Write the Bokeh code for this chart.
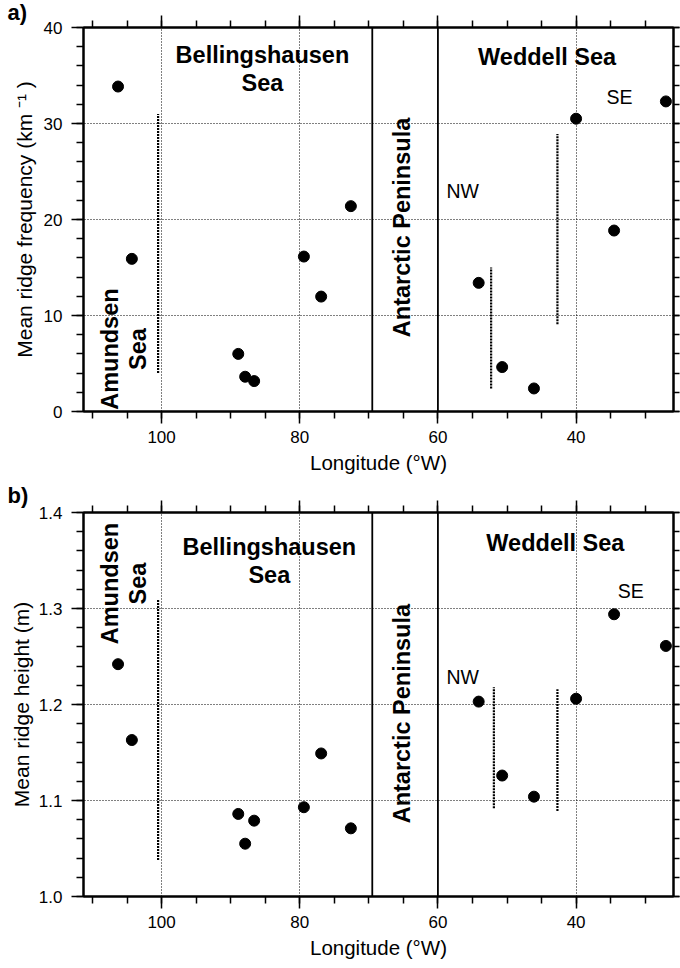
from math import pi
from bokeh.plotting import figure
from bokeh.models import (Range1d, FixedTicker, LinearAxis, Span, Label, Title,
                          CustomJSTickFormatter, PrintfTickFormatter)
from bokeh.layouts import column
from bokeh.embed import file_html
from bokeh.resources import INLINE

# ---------------- data ----------------
lon = [106.3, 104.3, 88.9, 87.9, 86.6, 79.4, 76.9, 72.6, 54.1, 50.7, 46.1, 40.0, 34.5, 27.0]
ridge_freq = [33.85, 15.9, 6.0, 3.62, 3.17, 16.14, 11.97, 21.39, 13.4, 4.63, 2.4, 30.5, 18.85, 32.3]
ridge_height = [1.242, 1.163, 1.086, 1.055, 1.079, 1.093, 1.149, 1.071, 1.203, 1.126, 1.104, 1.206, 1.294, 1.261]

# vertical dashed separators (lon, bottom, top)
sep_lon_a = [100.5, 52.3, 42.7]
sep_bot_a = [4.0, 2.4, 9.1]
sep_top_a = [31.0, 15.0, 28.9]
sep_lon_b = [100.5, 51.9, 42.7]
sep_bot_b = [1.038, 1.092, 1.089]
sep_top_b = [1.310, 1.218, 1.216]

# solid region boundaries (Antarctic Peninsula)
boundaries = [69.5, 60.0]

x_major = [100, 80, 60, 40]
x_minor = list(range(110, 25, -5))
ya_major = [0, 10, 20, 30, 40]
ya_minor = list(range(0, 41, 2))
ya_grid = [10, 20, 30]
yb_major = [1.0, 1.1, 1.2, 1.3, 1.4]
yb_minor = [round(1.0 + 0.02 * i, 2) for i in range(21)]
yb_grid = [1.1, 1.2, 1.3]

FONT = "Liberation Sans"


def style_axis(ax, tick_out=12, minor_out=7, standoff=9, title_size="20.5px"):
    ax.axis_line_width = 2
    ax.axis_line_color = "black"
    ax.major_tick_in = 0
    ax.major_tick_out = tick_out
    ax.minor_tick_in = 0
    ax.minor_tick_out = minor_out
    ax.major_tick_line_width = 1.5
    ax.minor_tick_line_width = 1.5
    ax.major_tick_line_color = "black"
    ax.minor_tick_line_color = "black"
    ax.major_label_text_font = FONT
    ax.major_label_text_font_size = "17px"
    ax.major_label_text_color = "black"
    ax.major_label_standoff = standoff
    ax.axis_label_text_font = FONT
    ax.axis_label_text_font_size = title_size
    ax.axis_label_text_font_style = "normal"
    ax.axis_label_text_color = "black"


def blank_axis(ticker, out):
    ax = LinearAxis(ticker=ticker, formatter=CustomJSTickFormatter(code="return ''"))
    style_axis(ax, tick_out=out, minor_out=out if out < 8 else 7, standoff=0)
    ax.major_label_text_font_size = "1px"
    return ax


def panel(height, top, bottom, yr, ylabel, y_major, y_minor, y_grid, yfmt,
          yvals, sep_lon, sep_bot, sep_top, tag, tag_standoff, title_standoff,
          amundsen_y, bell, wed, pen_y, nw_y, se):
    p = figure(width=680, height=height,
               x_range=Range1d(111.3, 25.9), y_range=Range1d(*yr),
               output_backend="svg", toolbar_location=None,
               min_border_left=83, min_border_right=7,
               min_border_top=top, min_border_bottom=bottom,
               x_axis_label="Longitude (°W)", y_axis_label=ylabel)
    p.title = Title(text=tag, align="left", offset=-76, standoff=tag_standoff,
                    text_font=FONT, text_font_size="22px", text_font_style="bold",
                    text_color="black")
    p.outline_line_color = "black"
    p.outline_line_width = 2
    p.background_fill_color = "white"
    p.border_fill_color = "white"

    xt = FixedTicker(ticks=x_major, minor_ticks=x_minor)
    yt = FixedTicker(ticks=y_major, minor_ticks=y_minor)
    p.xaxis.ticker = xt
    p.yaxis.ticker = yt
    for ax in p.xaxis:
        style_axis(ax, standoff=7, title_size="20.5px")
        ax.axis_label_standoff = 5
    for ax in p.yaxis:
        style_axis(ax, standoff=9, title_size="21px")
        ax.axis_label_standoff = title_standoff
        if yfmt:
            ax.formatter = PrintfTickFormatter(format=yfmt)

    p.add_layout(blank_axis(FixedTicker(ticks=x_major, minor_ticks=x_minor), 12), "above")
    p.add_layout(blank_axis(FixedTicker(ticks=y_major, minor_ticks=y_minor), 6), "right")

    p.xgrid.ticker = FixedTicker(ticks=x_major)
    p.ygrid.ticker = FixedTicker(ticks=y_grid)
    for g in (p.xgrid, p.ygrid):
        g.grid_line_color = "black"
        g.grid_line_dash = "1 2"
        g.grid_line_width = 1

    for b in boundaries:
        p.add_layout(Span(location=b, dimension="height", line_color="black", line_width=1.8))

    p.segment(x0=sep_lon, y0=sep_bot, x1=sep_lon, y1=sep_top,
              line_color="black", line_width=2.2, line_dash="2 1")

    p.scatter(lon, yvals, size=11, color="black")

    bold = dict(text_font=FONT, text_font_size="23.5px", text_font_style="bold",
                text_color="black", text_align="center", text_baseline="middle",
                text_line_height=1.08)
    reg = dict(text_font=FONT, text_font_size="19.5px", text_color="black",
               text_align="center", text_baseline="middle")

    p.add_layout(Label(x=105.4, y=amundsen_y, text="Amundsen\nSea", angle=pi / 2, **bold))
    p.add_layout(Label(x=bell[0], y=bell[1], text="Bellingshausen\nSea", **bold))
    p.add_layout(Label(x=wed[0], y=wed[1], text="Weddell Sea", **bold))
    p.add_layout(Label(x=65.2, y=pen_y, text="Antarctic Peninsula", angle=pi / 2, **bold))
    p.add_layout(Label(x=56.4, y=nw_y, text="NW", **reg))
    p.add_layout(Label(x=se[0], y=se[1], text="SE", **reg))
    return p


pa = panel(478, 27, 67, (0, 40), "Mean ridge frequency (km ⁻¹ )", ya_major, ya_minor, ya_grid, None,
           ridge_freq, sep_lon_a, sep_bot_a, sep_top_a, "a)", -18, 5,
           6.5, (85.4, 35.65), (44.2, 36.9), 19.17, 22.95, (33.7, 32.76))
pb = panel(490, 34, 72, (1.0, 1.4), "Mean ridge height (m)", yb_major, yb_minor, yb_grid, "%.1f",
           ridge_height, sep_lon_b, sep_bot_b, sep_top_b, "b)", -15, 3,
           1.326, (84.4, 1.349), (43.0, 1.368), 1.1905, 1.2286, (32.1, 1.318))

layout = column(pa, pb, spacing=0)
open("out.html", "w").write(file_html(layout, INLINE))
